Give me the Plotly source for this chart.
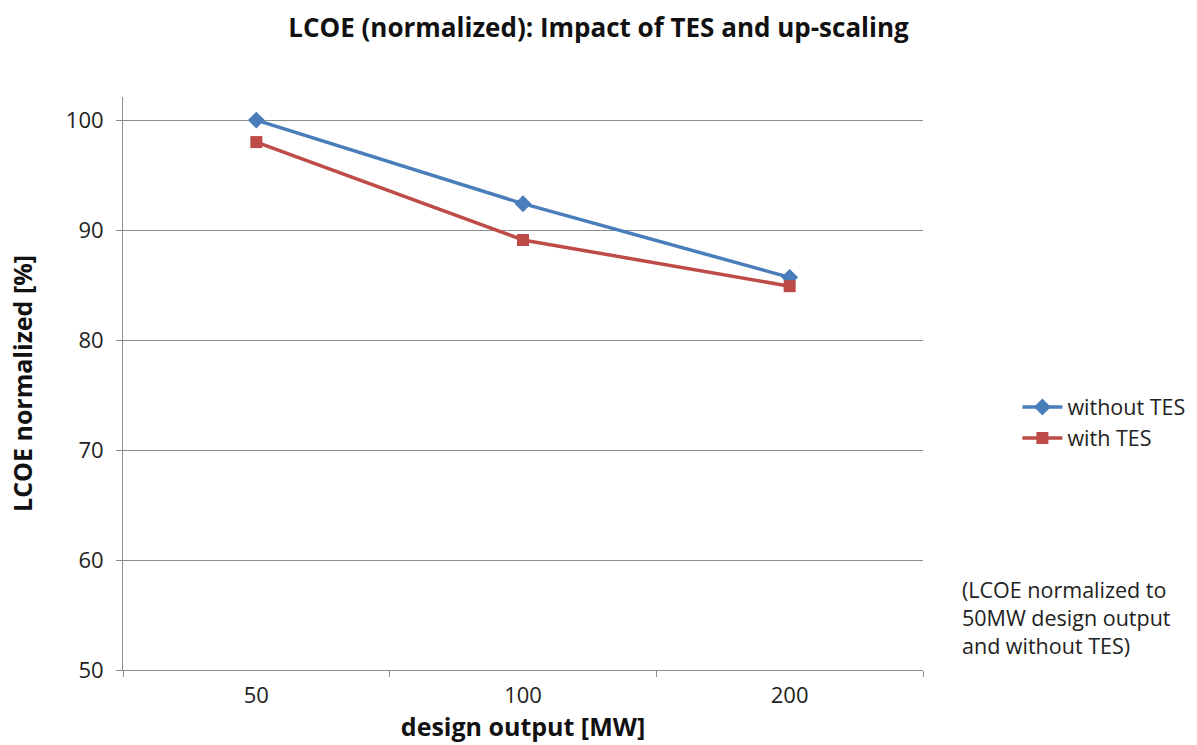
import plotly.graph_objects as go

# Design output categories and normalized LCOE values [%]
categories = ["50", "100", "200"]
without_tes = [100.0, 92.4, 85.7]
with_tes = [98.0, 89.1, 84.9]

FONT = "Open Sans"
GRID = "#8c8c8c"

fig = go.Figure()
fig.add_trace(go.Scatter(
    x=categories, y=without_tes, name="without TES", mode="lines+markers",
    line=dict(color="#4a7ebb", width=3.5),
    marker=dict(symbol="diamond", size=13, color="#4a7ebb"),
))
fig.add_trace(go.Scatter(
    x=categories, y=with_tes, name="with TES", mode="lines+markers",
    line=dict(color="#be4b48", width=3.5),
    marker=dict(symbol="square", size=12, color="#be4b48"),
))

fig.update_layout(
    width=1197, height=745,
    margin=dict(l=123, r=274, t=97, b=75, autoexpand=False),
    paper_bgcolor="white", plot_bgcolor="white",
    font=dict(family=FONT, size=21, color="#222222"),
    title=dict(text="<b>LCOE (normalized): Impact of TES and up-scaling</b>",
               x=0.5, xanchor="center", y=0.962, yanchor="middle",
               font=dict(size=26, color="#111111")),
    legend=dict(x=1.118, y=0.432, xanchor="left", yanchor="middle",
                font=dict(size=21.5), bgcolor="rgba(0,0,0,0)",
                tracegroupgap=0, itemwidth=40),
    showlegend=True,
)

fig.update_xaxes(
    type="category", range=[-0.5, 2.5], tickson="boundaries",
    ticks="outside", ticklen=6, tickcolor=GRID,
    showline=True, linecolor=GRID, linewidth=1, automargin=False,
    showgrid=False, tickfont=dict(size=22), ticklabelstandoff=6,
    title=dict(text="<b>design output [MW]</b>", font=dict(size=25, color="#111111"), standoff=8),
)
fig.update_yaxes(
    range=[50, 102.1], tickvals=[50, 60, 70, 80, 90, 100],
    ticks="outside", ticklen=6, tickcolor=GRID,
    showline=True, linecolor=GRID, linewidth=1, automargin=False,
    showgrid=True, gridcolor=GRID, gridwidth=1, zeroline=False,
    tickfont=dict(size=22), ticklabelstandoff=8,
    title=dict(text="<b>LCOE normalized [%]</b>", font=dict(size=25, color="#111111"), standoff=26),
)

fig.add_annotation(
    text="(LCOE normalized to<br>50MW design output<br>and without TES)",
    xref="paper", yref="paper", x=1.046, y=0.092, xanchor="left", yanchor="middle",
    align="left", showarrow=False, font=dict(size=21.5, color="#222222"),
)

fig.write_html("out.html")
